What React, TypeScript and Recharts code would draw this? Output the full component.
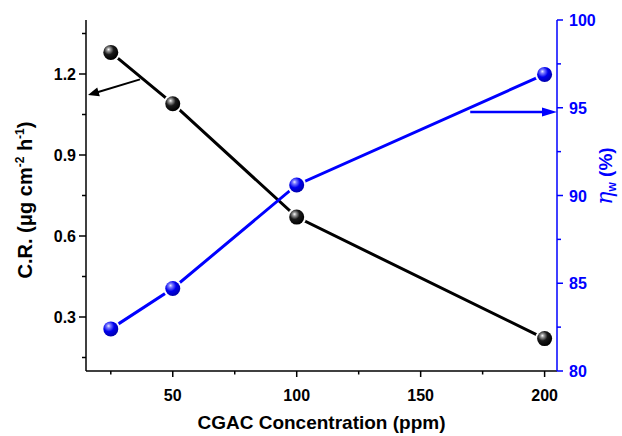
import React from 'react';
import {
  ComposedChart,
  Line,
  XAxis,
  YAxis,
  ReferenceLine,
  Label,
} from 'recharts';

const concentrations = [25, 50, 100, 200];
const corrosionRate = [1.28, 1.09, 0.67, 0.22];
const efficiency = [82.4, 84.7, 90.6, 96.9];

const xTicks = [25, 50, 75, 100, 125, 150, 175, 200];
const leftTicks = [0.15, 0.3, 0.45, 0.6, 0.75, 0.9, 1.05, 1.2, 1.35];
const rightTicks = [80, 82.5, 85, 87.5, 90, 92.5, 95, 97.5, 100];

const data = concentrations.map((c, i) => ({
  conc: c,
  cr: corrosionRate[i],
  eta: efficiency[i],
}));

const FONT = '"Liberation Sans", Arial, sans-serif';
const BLUE = '#0000ff';

const isMultiple = (v: number, step: number) =>
  Math.abs(v / step - Math.round(v / step)) < 1e-6;

const BottomTick = ({ x, y, payload }: any) => {
  const major = isMultiple(payload.value, 50);
  return (
    <g>
      <line x1={x} x2={x} y1={y} y2={y + (major ? 6 : 3.5)} stroke="#000" strokeWidth={1.5} />
      {major && (
        <text x={x} y={y + 29.5} textAnchor="middle" fontFamily={FONT} fontWeight="bold" fontSize={16} fill="#000">
          {payload.value}
        </text>
      )}
    </g>
  );
};

const TopTick = ({ x, y, payload }: any) => {
  const major = isMultiple(payload.value, 50);
  return <line x1={x} x2={x} y1={y} y2={y + (major ? 5 : 3.5)} stroke="#000" strokeWidth={1.5} />;
};

const LeftTick = ({ x, y, payload }: any) => {
  const major = isMultiple(payload.value, 0.3);
  return (
    <g>
      <line x1={x} x2={x - (major ? 7 : 4)} y1={y} y2={y} stroke="#000" strokeWidth={1.5} />
      {major && (
        <text x={x - 10} y={y + 6} textAnchor="end" fontFamily={FONT} fontWeight="bold" fontSize={16} fill="#000">
          {payload.value.toFixed(1)}
        </text>
      )}
    </g>
  );
};

const RightTick = ({ x, y, payload }: any) => {
  const major = isMultiple(payload.value, 5);
  return (
    <g>
      <line x1={x} x2={x + (major ? 6 : 4)} y1={y} y2={y} stroke={BLUE} strokeWidth={1.5} />
      {major && (
        <text x={x + 12} y={y + 6} textAnchor="start" fontFamily={FONT} fontWeight="bold" fontSize={16} fill={BLUE}>
          {payload.value}
        </text>
      )}
    </g>
  );
};

const ball = (gradient: string) => (props: any) => {
  const { cx, cy, index } = props;
  return (
    <g key={`${gradient}-${index}`}>
      <circle cx={cx} cy={cy} r={9.5} fill="#fff" />
      <circle cx={cx} cy={cy} r={7.5} fill={`url(#${gradient})`} />
    </g>
  );
};

const arrow = (color: string, headLen: number, headHalf: number, width: number) => (props: any) => {
  const { x1, y1, x2, y2 } = props;
  const dx = x2 - x1;
  const dy = y2 - y1;
  const len = Math.sqrt(dx * dx + dy * dy) || 1;
  const ux = dx / len;
  const uy = dy / len;
  const bx = x2 - ux * headLen;
  const by = y2 - uy * headLen;
  const pts = [
    `${x2},${y2}`,
    `${bx - uy * headHalf},${by + ux * headHalf}`,
    `${bx + uy * headHalf},${by - ux * headHalf}`,
  ].join(' ');
  return (
    <g>
      <line x1={x1} y1={y1} x2={bx + ux * 2} y2={by + uy * 2} stroke={color} strokeWidth={width} />
      <polygon points={pts} fill={color} />
    </g>
  );
};

const LeftTitle = (props: any) => {
  const { viewBox } = props;
  const cx = viewBox.x + 32;
  const cy = 200;
  return (
    <text
      x={cx}
      y={cy}
      transform={`rotate(-90 ${cx} ${cy})`}
      textAnchor="middle"
      fontFamily={FONT}
      fontWeight="bold"
      fontSize={20}
      fill="#000"
    >
      C.R. (μg cm
      <tspan fontSize={12} dy={-8}>-2</tspan>
      <tspan dy={8}> h</tspan>
      <tspan fontSize={12} dy={-8}>-1</tspan>
      <tspan dy={8}>)</tspan>
    </text>
  );
};

const RightTitle = (props: any) => {
  const { viewBox } = props;
  const cx = viewBox.x + viewBox.width - 10;
  const cy = 176;
  return (
    <text
      x={cx}
      y={cy}
      transform={`rotate(-90 ${cx} ${cy})`}
      textAnchor="middle"
      fontFamily={FONT}
      fontSize={19}
      fill={BLUE}
    >
      <tspan fontFamily='"DejaVu Serif", serif' fontStyle="italic" fontSize={22}>η</tspan>
      <tspan fontSize={12} dy={4} fontWeight="bold">w</tspan>
      <tspan dy={-4} fontWeight="bold"> (%)</tspan>
    </text>
  );
};

export default function App() {
  return (
    <div style={{ width: 622, height: 436, background: '#fff' }}>
      <style>{'body{margin:0}'}</style>
      <svg width={0} height={0} style={{ position: 'absolute' }}>
        <defs>
          <radialGradient id="ballBlack" cx="38%" cy="35%" r="65%" fx="35%" fy="30%">
            <stop offset="0%" stopColor="#ffffff" />
            <stop offset="18%" stopColor="#9a9a9a" />
            <stop offset="50%" stopColor="#1a1a1a" />
            <stop offset="100%" stopColor="#000000" />
          </radialGradient>
          <radialGradient id="ballBlue" cx="38%" cy="35%" r="65%" fx="35%" fy="30%">
            <stop offset="0%" stopColor="#e8e8ff" />
            <stop offset="20%" stopColor="#7a7aff" />
            <stop offset="55%" stopColor="#0000ee" />
            <stop offset="100%" stopColor="#0000b0" />
          </radialGradient>
        </defs>
      </svg>
      <ComposedChart
        width={622}
        height={436}
        data={data}
        margin={{ top: 20, right: 0, bottom: 0, left: 0 }}
      >
        <XAxis
          dataKey="conc"
          type="number"
          domain={[15, 205]}
          ticks={xTicks}
          interval={0}
          allowDataOverflow
          height={65}
          stroke="#000"
          strokeWidth={1.5}
          tickLine={false}
          tickSize={0}
          tickMargin={0}
          tick={<BottomTick />}
        >
          <Label
            content={(p: any) => (
              <text
                x={p.viewBox.x + p.viewBox.width / 2}
                y={p.viewBox.y + 58}
                textAnchor="middle"
                fontFamily={FONT}
                fontWeight="bold"
                fontSize={19}
                fill="#000"
              >
                CGAC Concentration (ppm)
              </text>
            )}
          />
        </XAxis>
        <XAxis
          xAxisId="top"
          dataKey="conc"
          type="number"
          orientation="top"
          domain={[15, 205]}
          ticks={xTicks}
          interval={0}
          allowDataOverflow
          height={0}
          stroke="#000"
          strokeWidth={1.5}
          tickLine={false}
          tickSize={0}
          tickMargin={0}
          tick={<TopTick />}
        />
        <YAxis
          yAxisId="left"
          type="number"
          domain={[0.1, 1.4]}
          ticks={leftTicks}
          interval={0}
          allowDataOverflow
          width={86}
          stroke="#000"
          strokeWidth={1.5}
          tickLine={false}
          tickSize={0}
          tickMargin={0}
          tick={<LeftTick />}
        >
          <Label content={<LeftTitle />} />
        </YAxis>
        <YAxis
          yAxisId="right"
          orientation="right"
          type="number"
          domain={[80, 100]}
          ticks={rightTicks}
          interval={0}
          allowDataOverflow
          width={65}
          stroke={BLUE}
          strokeWidth={1.5}
          tickLine={false}
          tickSize={0}
          tickMargin={0}
          tick={<RightTick />}
        >
          <Label content={<RightTitle />} />
        </YAxis>
        <Line
          yAxisId="left"
          dataKey="cr"
          stroke="#000"
          strokeWidth={3}
          dot={ball('ballBlack')}
          activeDot={false}
          isAnimationActive={false}
        />
        <Line
          yAxisId="right"
          dataKey="eta"
          stroke={BLUE}
          strokeWidth={3}
          dot={ball('ballBlue')}
          activeDot={false}
          isAnimationActive={false}
        />
        <ReferenceLine
          yAxisId="left"
          segment={[
            { x: 36.8, y: 1.18 },
            { x: 15.8, y: 1.122 },
          ]}
          ifOverflow="visible"
          shape={arrow('#000', 11, 4.5, 2)}
        />
        <ReferenceLine
          yAxisId="right"
          segment={[
            { x: 170, y: 94.76 },
            { x: 205, y: 94.76 },
          ]}
          ifOverflow="visible"
          shape={arrow(BLUE, 15, 4.5, 2.5)}
        />
      </ComposedChart>
    </div>
  );
}
